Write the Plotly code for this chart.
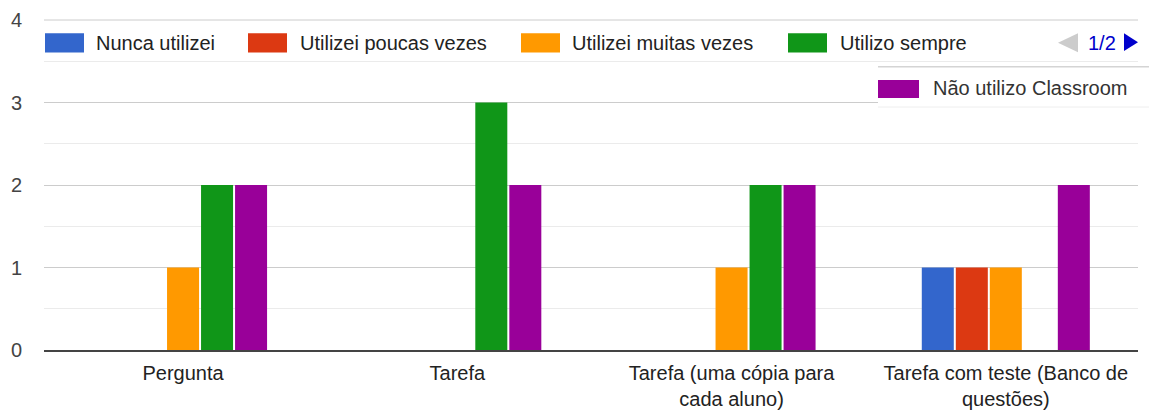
import plotly.graph_objects as go

# ---- data ----
categories = ["Pergunta", "Tarefa", "Tarefa (uma cópia para<br>cada aluno)",
              "Tarefa com teste (Banco de<br>questões)"]
series_names = ["Nunca utilizei", "Utilizei poucas vezes", "Utilizei muitas vezes",
                "Utilizo sempre", "Não utilizo Classroom"]
nunca = [0, 0, 0, 1]
poucas = [0, 0, 0, 1]
muitas = [1, 0, 1, 1]
sempre = [2, 3, 2, 0]
nao_utilizo = [2, 2, 2, 2]
y_ticks = [0, 1, 2, 3, 4]

series_values = [nunca, poucas, muitas, sempre, nao_utilizo]
colors = ["#3366cc", "#dc3912", "#ff9900", "#109618", "#990099"]

W, H = 1158, 414
ML, MT = 44, 20
MR = W - 1138
MB = H - 350
PW, PH = W - ML - MR, H - MT - MB
FONT = "Liberation Sans, Arial, sans-serif"


def px(x):
    return (x - ML) / PW


def py(y):
    return (H - MB - y) / PH


fig = go.Figure()
for name, vals, col in zip(series_names, series_values, colors):
    fig.add_trace(go.Bar(x=categories, y=vals, name=name, marker_color=col,
                         marker_line_width=0, showlegend=False))

shapes = []
annotations = []

# top gridline (value 4) drawn explicitly so it shows at the plot edge
shapes.append(dict(type="line", xref="paper", yref="paper", layer="below",
                   x0=0, x1=1, y0=1, y1=1, line=dict(color="#cccccc", width=1)))

# legend row 1 (first four series)
row1_sw = [45, 248, 521, 788]
row1_tx = [94, 298, 570, 838]
for i in range(4):
    shapes.append(dict(type="rect", xref="paper", yref="paper", layer="above",
                       x0=px(row1_sw[i]), x1=px(row1_sw[i] + 39),
                       y0=py(52.5), y1=py(33.3), fillcolor=colors[i], line_width=0))
    annotations.append(dict(xref="paper", yref="paper", x=px(row1_tx[i]), y=py(42.5),
                            xanchor="left", yanchor="middle", showarrow=False,
                            text=series_names[i], font=dict(family=FONT, size=20, color="#222222")))

# pager
shapes.append(dict(type="path", xref="paper", yref="paper", layer="above",
                   path=f"M {px(1078)} {py(33.3)} L {px(1078)} {py(52.3)} L {px(1058)} {py(42.8)} Z",
                   fillcolor="#cccccc", line_width=0))
shapes.append(dict(type="path", xref="paper", yref="paper", layer="above",
                   path=f"M {px(1124)} {py(33.3)} L {px(1124)} {py(51)} L {px(1138)} {py(42.2)} Z",
                   fillcolor="#0000cc", line_width=0))
annotations.append(dict(xref="paper", yref="paper", x=px(1086), y=py(42.5),
                        xanchor="left", yanchor="middle", showarrow=False, text="1/2",
                        font=dict(family=FONT, size=20, color="#0000cc")))

# legend page 2 box
shapes.append(dict(type="rect", xref="paper", yref="paper", layer="above",
                   x0=px(878), x1=px(1150), y0=py(109), y1=py(63),
                   fillcolor="white", line_width=0))
shapes.append(dict(type="line", xref="paper", yref="paper", layer="above",
                   x0=px(878), x1=px(1149), y0=py(66.7), y1=py(66.7),
                   line=dict(color="#d4d4d4", width=1.5)))
shapes.append(dict(type="line", xref="paper", yref="paper", layer="above",
                   x0=px(878), x1=px(1149), y0=py(107), y1=py(107),
                   line=dict(color="#eeeeee", width=1)))
shapes.append(dict(type="rect", xref="paper", yref="paper", layer="above",
                   x0=px(878), x1=px(919), y0=py(98), y1=py(80),
                   fillcolor=colors[4], line_width=0))
annotations.append(dict(xref="paper", yref="paper", x=px(931), y=py(88.5),
                        xanchor="left", yanchor="middle", showarrow=False,
                        text=series_names[4], font=dict(family=FONT, size=20, color="#333333")))

fig.update_layout(
    width=W, height=H,
    margin=dict(l=ML, r=MR, t=MT, b=MB, pad=0, autoexpand=False),
    paper_bgcolor="white", plot_bgcolor="white",
    barmode="group", bargap=0.38, bargroupgap=0.0588,
    font=dict(family=FONT, size=20, color="#222222"),
    shapes=shapes, annotations=annotations,
    showlegend=False,
    xaxis=dict(range=[-0.507, 3.482], showline=True, linecolor="#444444", linewidth=2,
               showgrid=False, ticks="", tickfont=dict(family=FONT, size=20, color="#222222"),
               ticklabelstandoff=4, fixedrange=True, automargin=False),
    yaxis=dict(range=[0, 4], tickvals=y_ticks, ticktext=[str(v) for v in y_ticks],
               showgrid=True, gridcolor="#cccccc", gridwidth=1, zeroline=False,
               showline=False, ticks="", ticklabelstandoff=21,
               tickfont=dict(family=FONT, size=20, color="#444444"),
               minor=dict(dtick=0.5, showgrid=True, gridcolor="#ebebeb", gridwidth=1),
               fixedrange=True, automargin=False),
)

post = ("var gd=document.getElementById('{plot_id}');"
        "gd.style.position='fixed';gd.style.left='0px';gd.style.top='0px';"
        "document.documentElement.style.margin='0';"
        "document.documentElement.style.overflow='hidden';"
        "document.body.style.margin='0';"
        "document.body.style.overflow='hidden';")
fig.write_html("out.html", post_script=post, config={"displayModeBar": False})
